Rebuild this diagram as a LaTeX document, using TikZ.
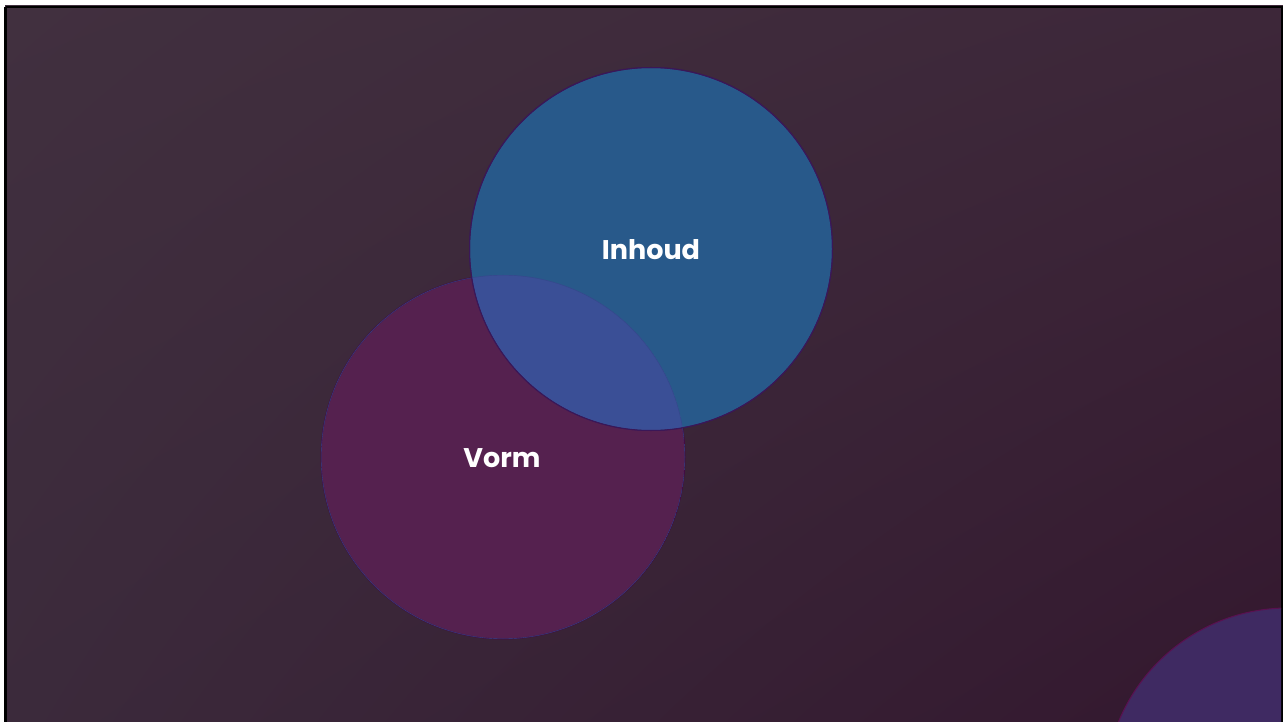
\documentclass[tikz,border=0pt]{standalone}
\usepackage{fontspec}
\usetikzlibrary{shadings}
\setmainfont{Poppins}
\definecolor{bgTL}{HTML}{41303F}
\definecolor{bgTR}{HTML}{3D2739}
\definecolor{bgBL}{HTML}{3B2A3B}
\definecolor{bgBR}{HTML}{33172E}
\definecolor{vormfill}{HTML}{55214F}
\definecolor{vormline}{HTML}{420C44}
\definecolor{inhfill}{HTML}{28598A}
\definecolor{inhline}{HTML}{3A1758}
\definecolor{overfill}{HTML}{3A4F96}
\definecolor{overline}{HTML}{33478A}
\definecolor{cornerfill}{HTML}{3F2A62}
\definecolor{cornerline}{HTML}{5A1050}
\tikzset{
  lbl/.style={text=white, font=\bfseries\fontsize{27}{32}\selectfont, inner sep=0pt},
}
\begin{document}
\begin{tikzpicture}[x=1pt,y=-1pt]
\useasboundingbox (0,0) rectangle (1283,722);
\fill[white] (0,0) rectangle (1283,722);
\shade[upper left=bgTL, upper right=bgTR, lower left=bgBL, lower right=bgBR] (5,6) rectangle (1290,730);
\draw[black, line width=2.5pt] (5.5,7) -- (1282,7) -- (1282,730);
\draw[black, line width=2.5pt] (5.5,7) -- (5.5,730);
% corner circle
\begin{scope}
\clip (5,6) rectangle (1281,722);
\filldraw[fill=cornerfill, draw=cornerline, line width=1pt] (1288,791) circle (183);
\end{scope}
% Vorm
\filldraw[fill=vormfill, draw=vormline, line width=1pt] (503,457) circle (182);
% Inhoud
\filldraw[fill=inhfill, draw=inhline, line width=1pt] (651,249) circle (181.5);
% overlap
\begin{scope}
\clip (503,457) circle (182);
\fill[overfill] (651,249) circle (181);
\draw[overline, line width=0.8pt] (503,457) circle (182);
\end{scope}
\draw[inhline, line width=1pt] (651,249) circle (181.5);
\node[lbl] (inhoud) at (651,250) {Inhoud};
\node[lbl] (vorm) at (502,458) {Vorm};
\end{tikzpicture}
\end{document}
